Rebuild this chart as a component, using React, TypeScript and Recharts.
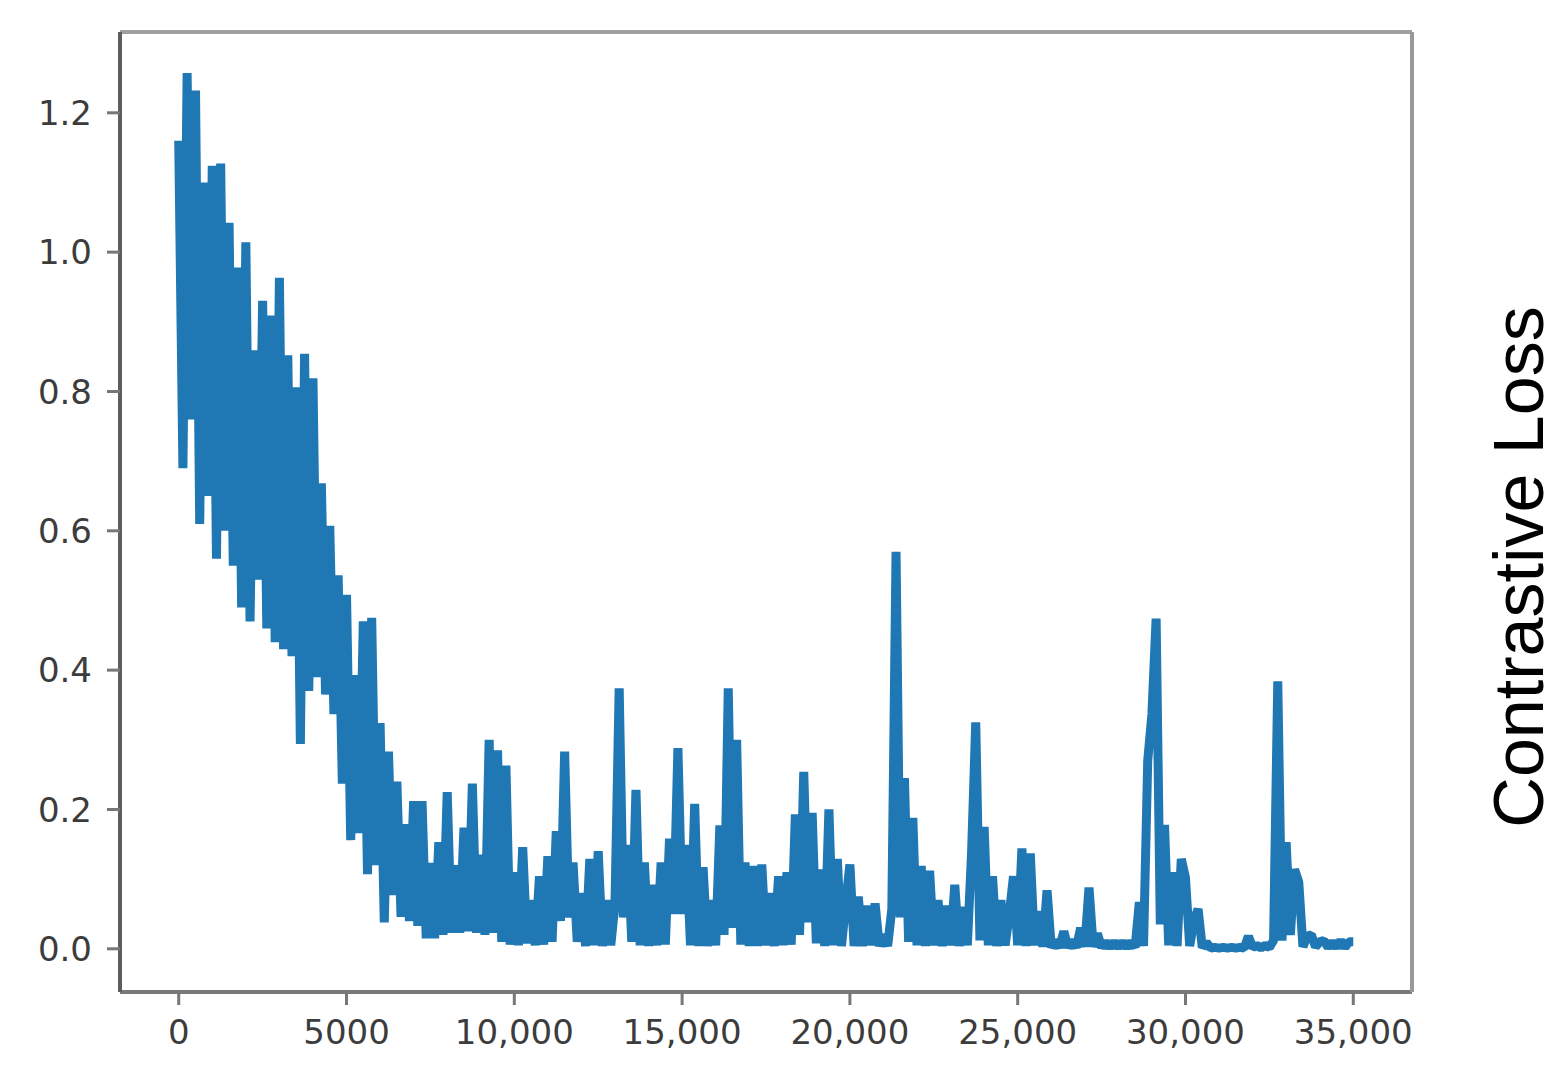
import React from 'react';
import { LineChart, Line, XAxis, YAxis, ReferenceLine } from 'recharts';

// training loss, one value every 125 steps
const STEP = 125;

const LOSS_0_5K = [
  1.16, 0.69, 1.257, 0.76, 1.232, 0.61, 1.1, 0.65, 1.124, 0.56,
  1.127, 0.6, 1.042, 0.55, 0.978, 0.49, 1.014, 0.47, 0.859, 0.53,
  0.93, 0.46, 0.909, 0.44, 0.963, 0.43, 0.852, 0.42, 0.806, 0.294,
  0.854, 0.37, 0.819, 0.39, 0.668, 0.365, 0.607, 0.337, 0.536, 0.237,
];

const LOSS_5K_10K = [
  0.508, 0.156, 0.393, 0.166, 0.47, 0.107, 0.475, 0.12, 0.324, 0.038,
  0.283, 0.077, 0.24, 0.046, 0.179, 0.04, 0.212, 0.033, 0.212, 0.015,
  0.123, 0.015, 0.153, 0.02, 0.225, 0.023, 0.12, 0.023, 0.174, 0.025,
  0.237, 0.023, 0.135, 0.02, 0.3, 0.023, 0.285, 0.01, 0.263, 0.006,
];

const LOSS_10K_15K = [
  0.11, 0.005, 0.146, 0.008, 0.07, 0.005, 0.104, 0.006, 0.133, 0.01,
  0.169, 0.04, 0.283, 0.045, 0.124, 0.01, 0.08, 0.004, 0.129, 0.005,
  0.14, 0.004, 0.07, 0.005, 0.065, 0.374, 0.045, 0.149, 0.01, 0.228,
  0.005, 0.124, 0.004, 0.092, 0.005, 0.124, 0.006, 0.158, 0.05, 0.288,
];

const LOSS_15K_20K = [
  0.05, 0.149, 0.005, 0.208, 0.004, 0.117, 0.004, 0.07, 0.005, 0.177,
  0.02, 0.374, 0.03, 0.3, 0.006, 0.124, 0.004, 0.119, 0.004, 0.121,
  0.005, 0.08, 0.004, 0.104, 0.005, 0.11, 0.006, 0.193, 0.02, 0.254,
  0.038, 0.195, 0.008, 0.114, 0.004, 0.2, 0.005, 0.129, 0.004, 0.065,
];

const LOSS_20K_25K = [
  0.121, 0.004, 0.075, 0.004, 0.062, 0.005, 0.065, 0.004, 0.02, 0.004,
  0.057, 0.57, 0.045, 0.245, 0.01, 0.188, 0.005, 0.119, 0.004, 0.112,
  0.005, 0.07, 0.004, 0.062, 0.005, 0.092, 0.004, 0.06, 0.005, 0.137,
  0.325, 0.012, 0.175, 0.005, 0.104, 0.004, 0.07, 0.005, 0.05, 0.104,
];

const LOSS_25K_30K = [
  0.005, 0.144, 0.004, 0.137, 0.005, 0.054, 0.003, 0.084, 0.002, 0.012,
  0.002, 0.025, 0.002, 0.012, 0.002, 0.03, 0.003, 0.088, 0.003, 0.022,
  0.002, 0.01, 0.002, 0.01, 0.002, 0.01, 0.002, 0.01, 0.002, 0.067,
  0.004, 0.27, 0.337, 0.474, 0.035, 0.178, 0.005, 0.11, 0.004, 0.129,
];

const LOSS_30K_35K = [
  0.102, 0.004, 0.04, 0.057, 0.002, 0.009, 0.001, 0.002, 0.001, 0.002,
  0.001, 0.002, 0.001, 0.002, 0.001, 0.018, 0.002, 0.005, 0.001, 0.005,
  0.002, 0.012, 0.384, 0.012, 0.153, 0.02, 0.114, 0.096, 0.003, 0.018,
  0.02, 0.003, 0.01, 0.012, 0.002, 0.01, 0.002, 0.012, 0.002, 0.01,
  0.01,
];

const X_TICKS = [0, 5000, 10000, 15000, 20000, 25000, 30000, 35000];
const X_TICK_LABELS = ['0', '5000', '10,000', '15,000', '20,000', '25,000', '30,000', '35,000'];
const Y_TICKS = [0, 0.2, 0.4, 0.6, 0.8, 1.0, 1.2];
const Y_TICK_LABELS = ['0.0', '0.2', '0.4', '0.6', '0.8', '1.0', '1.2'];

const data = [
  ...LOSS_0_5K,
  ...LOSS_5K_10K,
  ...LOSS_10K_15K,
  ...LOSS_15K_20K,
  ...LOSS_20K_25K,
  ...LOSS_25K_30K,
  ...LOSS_30K_35K,
].map((loss, i) => ({ step: i * STEP, loss }));

const X_DOMAIN = [-1750, 36750];
const Y_DOMAIN = [-0.062, 1.316];

const tickStyle = { fontFamily: 'DejaVu Sans', fontSize: 34, fill: '#3c3c3c' };

export default function App() {
  return (
    <div style={{ position: 'absolute', left: 0, top: 0, width: 1568, height: 1077, background: '#fff' }}>
      <LineChart width={1568} height={1077} data={data} margin={{ top: 32, right: 0, left: 0, bottom: 0 }}>
        <XAxis
          dataKey="step"
          type="number"
          domain={X_DOMAIN}
          allowDataOverflow
          ticks={X_TICKS}
          tickFormatter={(v: number) => X_TICK_LABELS[X_TICKS.indexOf(v)]}
          height={85}
          tickSize={13}
          tickMargin={15}
          tick={tickStyle}
          axisLine={{ stroke: '#7a7a7a', strokeWidth: 4 }}
          tickLine={{ stroke: '#777', strokeWidth: 3 }}
        />
        <YAxis
          type="number"
          domain={Y_DOMAIN}
          allowDataOverflow
          ticks={Y_TICKS}
          tickFormatter={(v: number) => Y_TICK_LABELS[Y_TICKS.indexOf(v)]}
          width={120}
          tickSize={13}
          tickMargin={15}
          tick={tickStyle}
          axisLine={{ stroke: '#5e5e5e', strokeWidth: 4 }}
          tickLine={{ stroke: '#777', strokeWidth: 3 }}
        />
        <YAxis
          yAxisId="right"
          orientation="right"
          type="number"
          domain={[0, 1]}
          width={156}
          tick={false}
          tickLine={false}
          axisLine={{ stroke: '#999', strokeWidth: 4 }}
          label={{
            value: 'Contrastive Loss',
            angle: -90,
            position: 'center',
            dx: 28,
            dy: 55,
            style: { fontFamily: 'Liberation Sans, Arial, sans-serif', fontSize: 70, fill: '#000' },
          }}
        />
        <ReferenceLine y={Y_DOMAIN[1]} stroke="#a0a0a0" strokeWidth={4} ifOverflow="visible" />
        <Line
          type="linear"
          dataKey="loss"
          stroke="#1f77b4"
          strokeWidth={9}
          strokeLinejoin="bevel"
          dot={false}
          isAnimationActive={false}
        />
      </LineChart>
    </div>
  );
}
